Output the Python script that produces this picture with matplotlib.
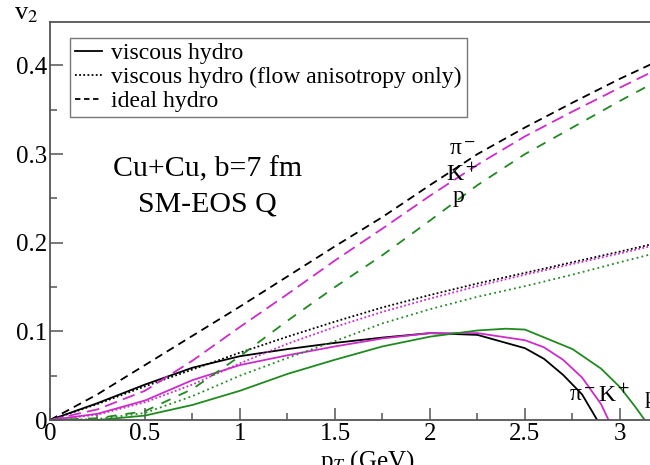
import numpy as np
import matplotlib
matplotlib.use("Agg")
import matplotlib.pyplot as plt
from matplotlib.ticker import MultipleLocator
from matplotlib.lines import Line2D

plt.rcParams["font.family"] = ["Liberation Serif", "DejaVu Serif"]
plt.rcParams["mathtext.fontset"] = "stix"

# ---------------------------------------------------------------------------
# v2(pT) curves, Cu+Cu b=7 fm, SM-EOS Q
# ---------------------------------------------------------------------------
pt_ideal = [0.0, 0.25, 0.5, 0.75, 1.0, 1.25, 1.5, 1.75, 2.0, 2.25, 2.5, 2.75, 3.0, 3.2]
v2_ideal_pi = [0.0, 0.029, 0.062, 0.095, 0.128, 0.162, 0.196, 0.229, 0.265, 0.300, 0.330, 0.358, 0.385, 0.405]
v2_ideal_k = [0.0, 0.012, 0.033, 0.067, 0.105, 0.142, 0.180, 0.216, 0.253, 0.288, 0.320, 0.348, 0.375, 0.396]
v2_ideal_p = [0.0, 0.002, 0.010, 0.035, 0.072, 0.112, 0.150, 0.186, 0.225, 0.265, 0.300, 0.330, 0.360, 0.383]

pt_flow = [0.0, 0.25, 0.5, 0.75, 1.0, 1.25, 1.5, 1.75, 2.0, 2.25, 2.5, 2.75, 3.0, 3.2]
v2_flow_pi = [0.0, 0.018, 0.038, 0.057, 0.076, 0.094, 0.111, 0.127, 0.141, 0.154, 0.166, 0.178, 0.190, 0.200]
v2_flow_k = [0.0, 0.006, 0.020, 0.040, 0.064, 0.086, 0.105, 0.122, 0.137, 0.151, 0.164, 0.176, 0.188, 0.198]
v2_flow_p = [0.0, 0.001, 0.008, 0.027, 0.050, 0.070, 0.089, 0.109, 0.125, 0.139, 0.151, 0.164, 0.178, 0.189]

pt_visc_pi = [0.0, 0.25, 0.5, 0.75, 1.0, 1.25, 1.5, 1.75, 2.0, 2.25, 2.5, 2.6, 2.7, 2.8, 2.88]
v2_visc_pi = [0.0, 0.019, 0.040, 0.059, 0.072, 0.080, 0.087, 0.093, 0.098, 0.096, 0.081, 0.069, 0.051, 0.029, 0.0]
pt_visc_k = [0.0, 0.25, 0.5, 0.75, 1.0, 1.25, 1.5, 1.75, 2.0, 2.25, 2.5, 2.6, 2.7, 2.8, 2.9, 2.94]
v2_visc_k = [0.0, 0.007, 0.022, 0.045, 0.062, 0.073, 0.083, 0.092, 0.098, 0.098, 0.090, 0.082, 0.068, 0.048, 0.018, 0.0]
pt_visc_p = [0.0, 0.25, 0.5, 0.75, 1.0, 1.25, 1.5, 1.75, 2.0, 2.25, 2.4, 2.5, 2.75, 2.9, 3.0, 3.08, 3.13]
v2_visc_p = [0.0, 0.0, 0.005, 0.017, 0.033, 0.052, 0.068, 0.083, 0.094, 0.101, 0.103, 0.102, 0.080, 0.058, 0.037, 0.015, 0.0]

BLACK = "black"
MAGENTA = "#cc2ccc"
GREEN = "#1f8a1f"

fig = plt.figure(figsize=(6.5, 4.65), dpi=100)
# axes run past the right edge of the canvas on purpose
ax = fig.add_axes([50 / 650, 45 / 465, 665 / 650, 398 / 465])

lw = 1.3
ax.plot(pt_visc_pi, v2_visc_pi, color=BLACK, lw=lw)
ax.plot(pt_visc_k, v2_visc_k, color=MAGENTA, lw=lw)
ax.plot(pt_visc_p, v2_visc_p, color=GREEN, lw=lw)

ax.plot(pt_flow, v2_flow_pi, color=BLACK, lw=lw, dashes=(1, 1.3))
ax.plot(pt_flow, v2_flow_k, color=MAGENTA, lw=lw, dashes=(1, 1.3))
ax.plot(pt_flow, v2_flow_p, color=GREEN, lw=lw, dashes=(1, 1.8))

ax.plot(pt_ideal, v2_ideal_pi, color=BLACK, lw=lw, dashes=(4.5, 3))
ax.plot(pt_ideal, v2_ideal_k, color=MAGENTA, lw=lw, dashes=(7, 3.5))
ax.plot(pt_ideal, v2_ideal_p, color=GREEN, lw=lw, dashes=(5.5, 5))

ax.set_xlim(0, 3.5)
ax.set_ylim(0, 0.449)

ax.xaxis.set_major_locator(MultipleLocator(0.5))
ax.xaxis.set_minor_locator(MultipleLocator(0.25))
ax.yaxis.set_major_locator(MultipleLocator(0.1))
ax.yaxis.set_minor_locator(MultipleLocator(0.05))
ax.xaxis.set_major_formatter(plt.FuncFormatter(lambda v, p: f"{v:g}"))
ax.yaxis.set_major_formatter(plt.FuncFormatter(lambda v, p: f"{v:g}"))
ax.tick_params(which="both", direction="in", labelsize=18, color="#555555",
               top=False, right=False)
ax.tick_params(which="major", length=9, width=1.1, pad=2)
ax.tick_params(which="minor", length=5, width=1.1)
for side in ("left", "bottom", "top"):
    ax.spines[side].set_color("#555555")
    ax.spines[side].set_linewidth(1.3)

ax.set_xlabel(r"p$_T$ (GeV)", fontsize=18)
ax.xaxis.set_label_coords(0.477, -0.07)
fig.text(14 / 650, 1 - 14 / 465, r"v$_2$", fontsize=19, va="center", ha="left")

handles = [
    Line2D([], [], color=BLACK, lw=lw),
    Line2D([], [], color=BLACK, lw=lw, dashes=(1, 1.3)),
    Line2D([], [], color=BLACK, lw=lw, dashes=(3, 2)),
]
labels = ["viscous hydro", "viscous hydro (flow anisotropy only)", "ideal hydro"]
leg = ax.legend(handles, labels, loc="upper left", bbox_to_anchor=(20 / 665, 1 - 16 / 398),
                fontsize=17, frameon=True, fancybox=False, handlelength=1.15,
                handletextpad=0.4, borderpad=0.2, labelspacing=0.1, borderaxespad=0)
leg.get_frame().set_edgecolor("#555555")
leg.get_frame().set_linewidth(1.0)

ax.text(0.83, 0.283, "Cu+Cu, b=7 fm", fontsize=21.5, ha="center", va="center")
ax.text(0.83, 0.243, "SM-EOS Q", fontsize=21.5, ha="center", va="center")

# species tags next to the ideal hydro curves
ax.text(2.17, 0.305, "π$^-$", fontsize=17, ha="center", va="center")
ax.text(2.17, 0.277, "K$^+$", fontsize=17, ha="center", va="center")
ax.text(2.15, 0.252, "p", fontsize=17, ha="center", va="center")

# species tags next to the viscous curves
ax.text(2.80, 0.028, "π$^-$", fontsize=17, ha="center", va="center")
ax.text(2.97, 0.028, "K$^+$", fontsize=17, ha="center", va="center")
ax.text(3.16, 0.025, "p", fontsize=17, ha="center", va="center")

fig.savefig("out.png", dpi=100)
